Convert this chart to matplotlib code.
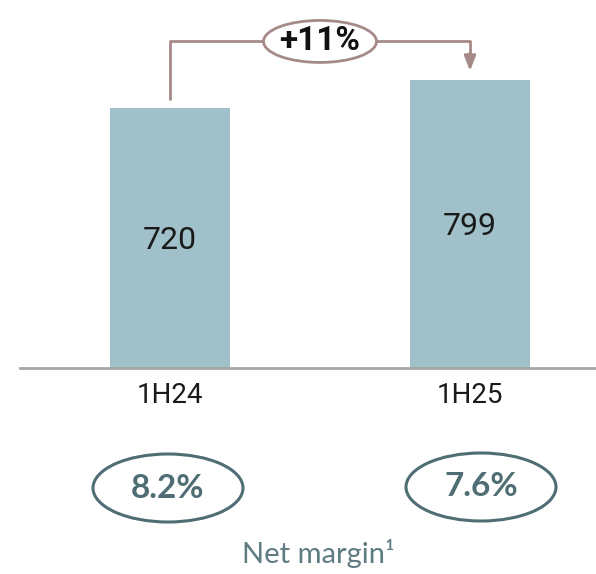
import matplotlib
matplotlib.use("Agg")
import matplotlib.pyplot as plt
from matplotlib.patches import Ellipse

periods = ["1H24", "1H25"]
net_income = [720, 799]
growth_label = "+11%"
net_margin = ["8.2%", "7.6%"]
margin_caption = "Net margin\u00b9"

BAR_COLOR = "#A0C1C9"
ARROW_COLOR = "#A58A88"
MARGIN_COLOR = "#4F6E73"
CAPTION_COLOR = "#5E7C81"
FONT = "Roboto"
FONT_CAPTION = "Lato"

W, H = 596, 574
fig = plt.figure(figsize=(W / 100, H / 100), dpi=100)

# axes: left at x=20px, baseline at y=368px (from top), top at y=0
ax = fig.add_axes([20 / W, (H - 368) / H, 576 / W, 368 / H])
ymax = 368 / 0.3605
ax.set_ylim(0, ymax)
ax.set_xlim(-0.5, 1.42)
x = list(range(len(periods)))
ax.bar(x, net_income, width=0.4, color=BAR_COLOR, zorder=2)
for s in ["top", "right", "left"]:
    ax.spines[s].set_visible(False)
ax.spines["bottom"].set_color("#A6A6A6")
ax.spines["bottom"].set_linewidth(2)
ax.set_yticks([])
ax.set_xticks(x)
ax.set_xticklabels(periods, fontsize=20, family=FONT, color="#1A1A1A")
ax.tick_params(axis="x", length=0, pad=10)

# values inside the bars
for xi, v in zip(x, net_income):
    ax.text(xi, v * 0.49, f"{v}", ha="center", va="center",
            fontsize=23, family=FONT, color="#1A1A1A")

# growth bracket from bar 1 to bar 2
px = 1 / 0.3605
y_start = net_income[0] + 8 * px
y_top = net_income[0] + 67 * px
y_tip = net_income[1] + 9 * px
ax.plot([x[0], x[0], x[1], x[1]], [y_start, y_top, y_top, y_tip + 16 * px],
        color=ARROW_COLOR, lw=2, solid_capstyle="butt", clip_on=False, zorder=3)
ax.annotate("", xy=(x[1], y_tip), xytext=(x[1], y_tip + 18 * px),
            arrowprops=dict(arrowstyle="-|>,head_width=0.35,head_length=0.9",
                            color=ARROW_COLOR, lw=2, shrinkA=0, shrinkB=0))
mid = (x[0] + x[1]) / 2
ax.add_patch(Ellipse((mid, y_top), 113 / 300, 42 * px, facecolor="white",
                     edgecolor=ARROW_COLOR, lw=2, zorder=4, clip_on=False))
ax.text(mid, y_top, growth_label, ha="center", va="center", fontsize=24,
        fontweight="bold", family=FONT, color="#111111", zorder=5)

# net margin bubbles below the axis
centers = [(168, 488), (481, 487)]
for (cx, cy), m in zip(centers, net_margin):
    fx, fy = cx / W, (H - cy) / H
    fig.add_artist(Ellipse((fx, fy), 150 / W, 68 / H, transform=fig.transFigure,
                           facecolor="none", edgecolor=MARGIN_COLOR, lw=2.2))
    fig.text(fx, fy, m, ha="center", va="center", fontsize=24,
             fontweight="bold", family=FONT_CAPTION, color=MARGIN_COLOR)

fig.text(318 / W, (H - 553) / H, margin_caption, ha="center",
         va="center", fontsize=21, family=FONT_CAPTION, color=CAPTION_COLOR)

fig.savefig("out.png", dpi=100)
